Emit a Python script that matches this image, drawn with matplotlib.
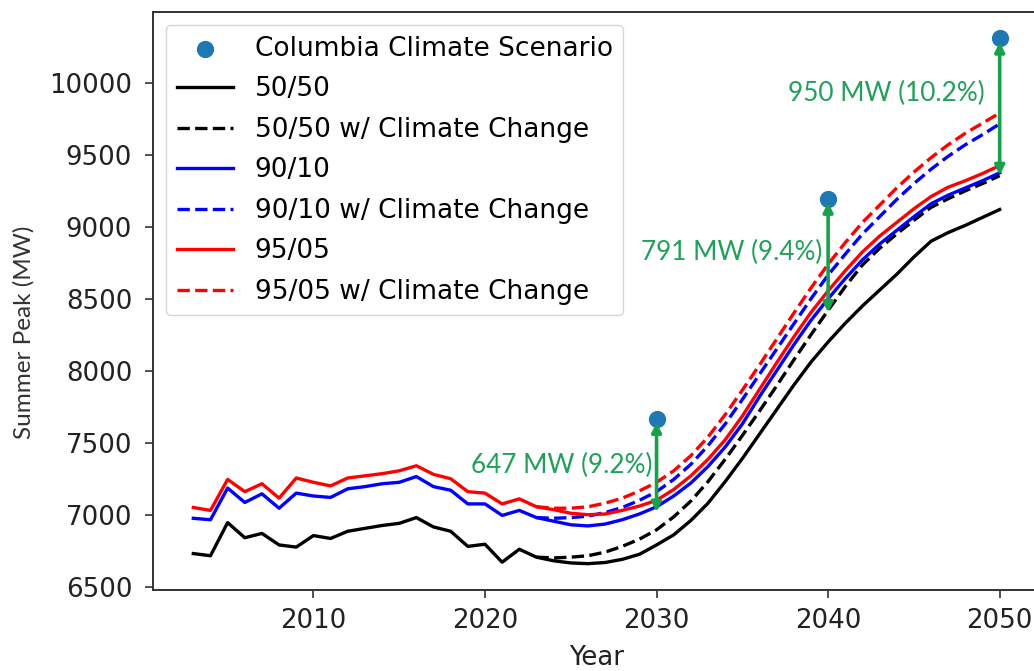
import matplotlib
matplotlib.use("Agg")
import matplotlib.pyplot as plt

# Historical summer peaks (shared by all scenarios up to 2023)
hist_years = list(range(2003, 2024))
hist_5050 = [6730, 6715, 6945, 6840, 6870, 6790, 6775, 6855, 6835, 6885, 6905,
             6925, 6940, 6980, 6915, 6885, 6780, 6795, 6670, 6760, 6705]
hist_9010 = [6975, 6965, 7185, 7085, 7145, 7045, 7150, 7130, 7120, 7180, 7195,
             7215, 7225, 7265, 7195, 7170, 7075, 7075, 6995, 7030, 6980]
hist_9505 = [7050, 7030, 7245, 7160, 7215, 7115, 7255, 7225, 7200, 7255, 7270,
             7285, 7305, 7340, 7280, 7250, 7160, 7150, 7075, 7110, 7055]

# Forecast years 2024-2050
fc_years = list(range(2024, 2051))
fc_5050 = [6680, 6665, 6660, 6668, 6690, 6725, 6790, 6860, 6960, 7080, 7230,
           7390, 7560, 7730, 7900, 8060, 8200, 8330, 8450, 8560, 8670, 8790,
           8900, 8960, 9010, 9065, 9120]
fc_5050_cc = [6700, 6705, 6715, 6740, 6780, 6830, 6895, 6985, 7095, 7230, 7385,
              7550, 7720, 7895, 8075, 8250, 8420, 8585, 8735, 8850, 8950, 9045,
              9135, 9195, 9250, 9300, 9355]
fc_9010 = [6955, 6930, 6922, 6935, 6965, 7005, 7055, 7130, 7220, 7335, 7470,
           7630, 7820, 8000, 8180, 8350, 8500, 8640, 8770, 8880, 8975, 9070,
           9160, 9220, 9270, 9320, 9375]
fc_9010_cc = [6975, 6980, 6990, 7015, 7050, 7100, 7160, 7245, 7350, 7480, 7630,
              7800, 7975, 8150, 8325, 8500, 8665, 8810, 8950, 9070, 9190, 9300,
              9400, 9490, 9570, 9640, 9715]
fc_9505 = [7035, 7010, 7000, 7005, 7030, 7060, 7100, 7175, 7270, 7385, 7520,
           7685, 7870, 8055, 8235, 8405, 8555, 8695, 8825, 8935, 9030, 9125,
           9210, 9275, 9320, 9370, 9425]
fc_9505_cc = [7045, 7045, 7055, 7080, 7115, 7165, 7225, 7305, 7410, 7540, 7695,
              7865, 8040, 8220, 8400, 8575, 8740, 8890, 9030, 9150, 9270, 9380,
              9480, 9570, 9650, 9720, 9790]

# Columbia climate scenario points and their stated uplift
climate_years = [2030, 2040, 2050]
climate_peak = [7666, 9195, 10308]
uplift_mw = [647, 791, 950]
uplift_labels = ["647 MW (9.2%)", "791 MW (9.4%)", "950 MW (10.2%)"]

tick_years = [2010, 2020, 2030, 2040, 2050]
tick_peaks = [6500, 7000, 7500, 8000, 8500, 9000, 9500, 10000]

years_full = hist_years + fc_years
years_cc = hist_years[-1:] + fc_years

TICK = 18.7
LEG = 19
plt.rcParams["font.family"] = ["DejaVu Sans"]

fig = plt.figure(figsize=(10.34, 6.71), dpi=100)
ax = fig.add_axes([153 / 1034, 1 - 590 / 671, (1040 - 153) / 1034, (590 - 12) / 671])

LW = 2.4
ax.scatter(climate_years, climate_peak, s=130, color="#1f77b4", zorder=5,
           label="Columbia Climate Scenario")
ax.plot(years_full, hist_5050 + fc_5050, color="black", lw=LW, label="50/50")
ax.plot(years_cc, hist_5050[-1:] + fc_5050_cc, color="black", lw=LW, ls="--",
        label="50/50 w/ Climate Change")
ax.plot(years_full, hist_9010 + fc_9010, color="blue", lw=LW, label="90/10")
ax.plot(years_cc, hist_9010[-1:] + fc_9010_cc, color="blue", lw=LW, ls="--",
        label="90/10 w/ Climate Change")
ax.plot(years_full, hist_9505 + fc_9505, color="red", lw=LW, label="95/05")
ax.plot(years_cc, hist_9505[-1:] + fc_9505_cc, color="red", lw=LW, ls="--",
        label="95/05 w/ Climate Change")

# Uplift arrows from each scenario point down by the stated amount,
# with the label set to the left of each arrow
label_dx = [0.25, 0.35, 0.9]
label_frac = [0.5, 0.47, 0.4]
green_arrow = "#19a04b"
green_text = "#22a05a"
for yr, top, d, lab, dx, fr in zip(climate_years, climate_peak, uplift_mw,
                                   uplift_labels, label_dx, label_frac):
    ax.annotate("", xy=(yr, top - d), xytext=(yr, top - 25),
                arrowprops=dict(arrowstyle="<|-|>", color=green_arrow, lw=2.6,
                                mutation_scale=14, shrinkA=0, shrinkB=0),
                zorder=6)
    ax.text(yr - dx, top - d * fr, lab, ha="right", va="center",
            color=green_text, fontsize=18.8, family=["Lato", "DejaVu Sans"],
            zorder=7)

ax.set_xlim(2000.65, 2052.35)
ax.set_ylim(6477, 10492)
ax.set_xticks(tick_years)
ax.set_yticks(tick_peaks)
ax.tick_params(labelsize=TICK, length=6, width=1.2, colors="#333333",
               labelcolor="#222222")
ax.tick_params(axis="y", pad=9)
ax.tick_params(axis="x", pad=7)
for s in ax.spines.values():
    s.set_linewidth(1.4)
    s.set_color("#333333")

ax.set_xlabel("Year", fontsize=TICK, color="#222222", labelpad=8)
ax.set_ylabel("Summer Peak (MW)", fontsize=17.5, color="#333333",
              family=["Lato", "DejaVu Sans"])
ax.yaxis.set_label_coords(-0.133, 0.445)

leg = ax.legend(loc="upper left", fontsize=LEG, handlelength=2.15,
                labelspacing=0.55, borderpad=0.4, framealpha=0.8,
                bbox_to_anchor=(0.0, 1.0))

fig.savefig("out.png", dpi=100)
